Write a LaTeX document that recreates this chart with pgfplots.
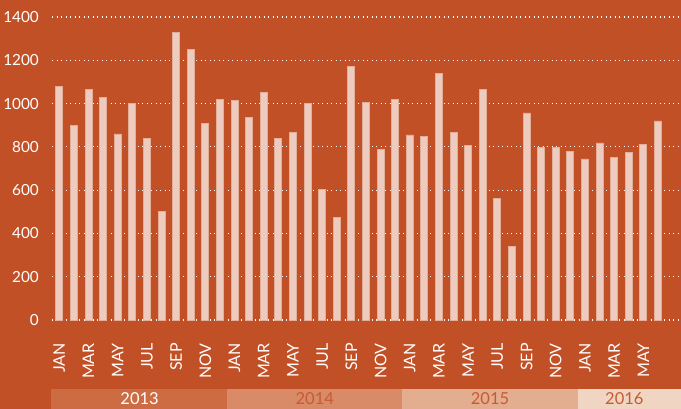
\documentclass[border=0pt]{standalone}
\usepackage{pgfplots}
\pgfplotsset{compat=1.18}
\usepackage{fontspec}
\setmainfont{Lato}
\definecolor{bg}{HTML}{C25027}
\definecolor{barfill}{HTML}{EDCCBF}
\definecolor{baredge}{HTML}{E2AE98}
\definecolor{yA}{HTML}{CD6C43}
\definecolor{yB}{HTML}{D98B68}
\definecolor{yC}{HTML}{E3AD8F}
\definecolor{yD}{HTML}{F0D5C3}
\definecolor{ytext}{HTML}{C85A32}
\begin{document}
\begin{tikzpicture}
\path[use as bounding box, fill=bg] (0,0) rectangle (681bp,409bp);
\begin{axis}[
  at={(52bp,89bp)}, anchor=south west,
  scale only axis, width=629bp, height=303bp,
  xmin=-0.5, xmax=42.58, ymin=0, ymax=1400,
  axis lines*=left, axis line style={draw=none},
  major tick length=0pt,
  ytick={0,200,...,1400},
  ymajorgrids,
  grid style={white, line width=1.1bp, dash pattern=on 1.1bp off 3.4bp},
  xtick={0,2,...,40},
  xticklabels={JAN,MAR,MAY,JUL,SEP,NOV,JAN,MAR,MAY,JUL,SEP,NOV,JAN,MAR,MAY,JUL,SEP,NOV,JAN,MAR,MAY},
  xticklabel style={rotate=90, anchor=east, inner sep=0pt, font=\fontsize{16bp}{16bp}\selectfont, text=white},
  xticklabel shift=23bp,
  yticklabel style={anchor=east, inner sep=0pt, font=\fontsize{15.3bp}{16bp}\selectfont, text=white},
  yticklabel shift=13bp,
  /pgf/number format/assume math mode=true,
  /pgf/number format/1000 sep={},
  clip=false,
  ybar, bar width=7bp,
]
\fill[yA] (axis cs:-0.55,-318.8) rectangle (axis cs:11.5,-420);
\fill[yB] (axis cs:11.5,-318.8) rectangle (axis cs:23.5,-420);
\fill[yC] (axis cs:23.5,-318.8) rectangle (axis cs:35.5,-420);
\fill[yD] (axis cs:35.5,-318.8) rectangle (axis cs:42.6,-420);
\node[text=white, font=\fontsize{16.5bp}{17bp}\selectfont] at (axis cs:5.5,-365) {2013};
\node[text=ytext, font=\fontsize{16.5bp}{17bp}\selectfont] at (axis cs:17.5,-365) {2014};
\node[text=ytext, font=\fontsize{16.5bp}{17bp}\selectfont] at (axis cs:29.5,-365) {2015};
\node[text=ytext, font=\fontsize{16.5bp}{17bp}\selectfont] at (axis cs:38.7,-365) {2016};
\addplot[fill=barfill, draw=baredge, line width=0.7bp] coordinates {
(0,1080) (1,900) (2,1065) (3,1030) (4,860) (5,1000) (6,840) (7,500) (8,1330) (9,1250) (10,910) (11,1020)
(12,1015) (13,935) (14,1050) (15,840) (16,868) (17,1000) (18,605) (19,473) (20,1170) (21,1007) (22,787) (23,1020)
(24,855) (25,847) (26,1140) (27,868) (28,805) (29,1067) (30,560) (31,340) (32,957) (33,797) (34,797) (35,780)
(36,744) (37,818) (38,752) (39,773) (40,810) (41,920)
};
\end{axis}
\end{tikzpicture}
\end{document}
